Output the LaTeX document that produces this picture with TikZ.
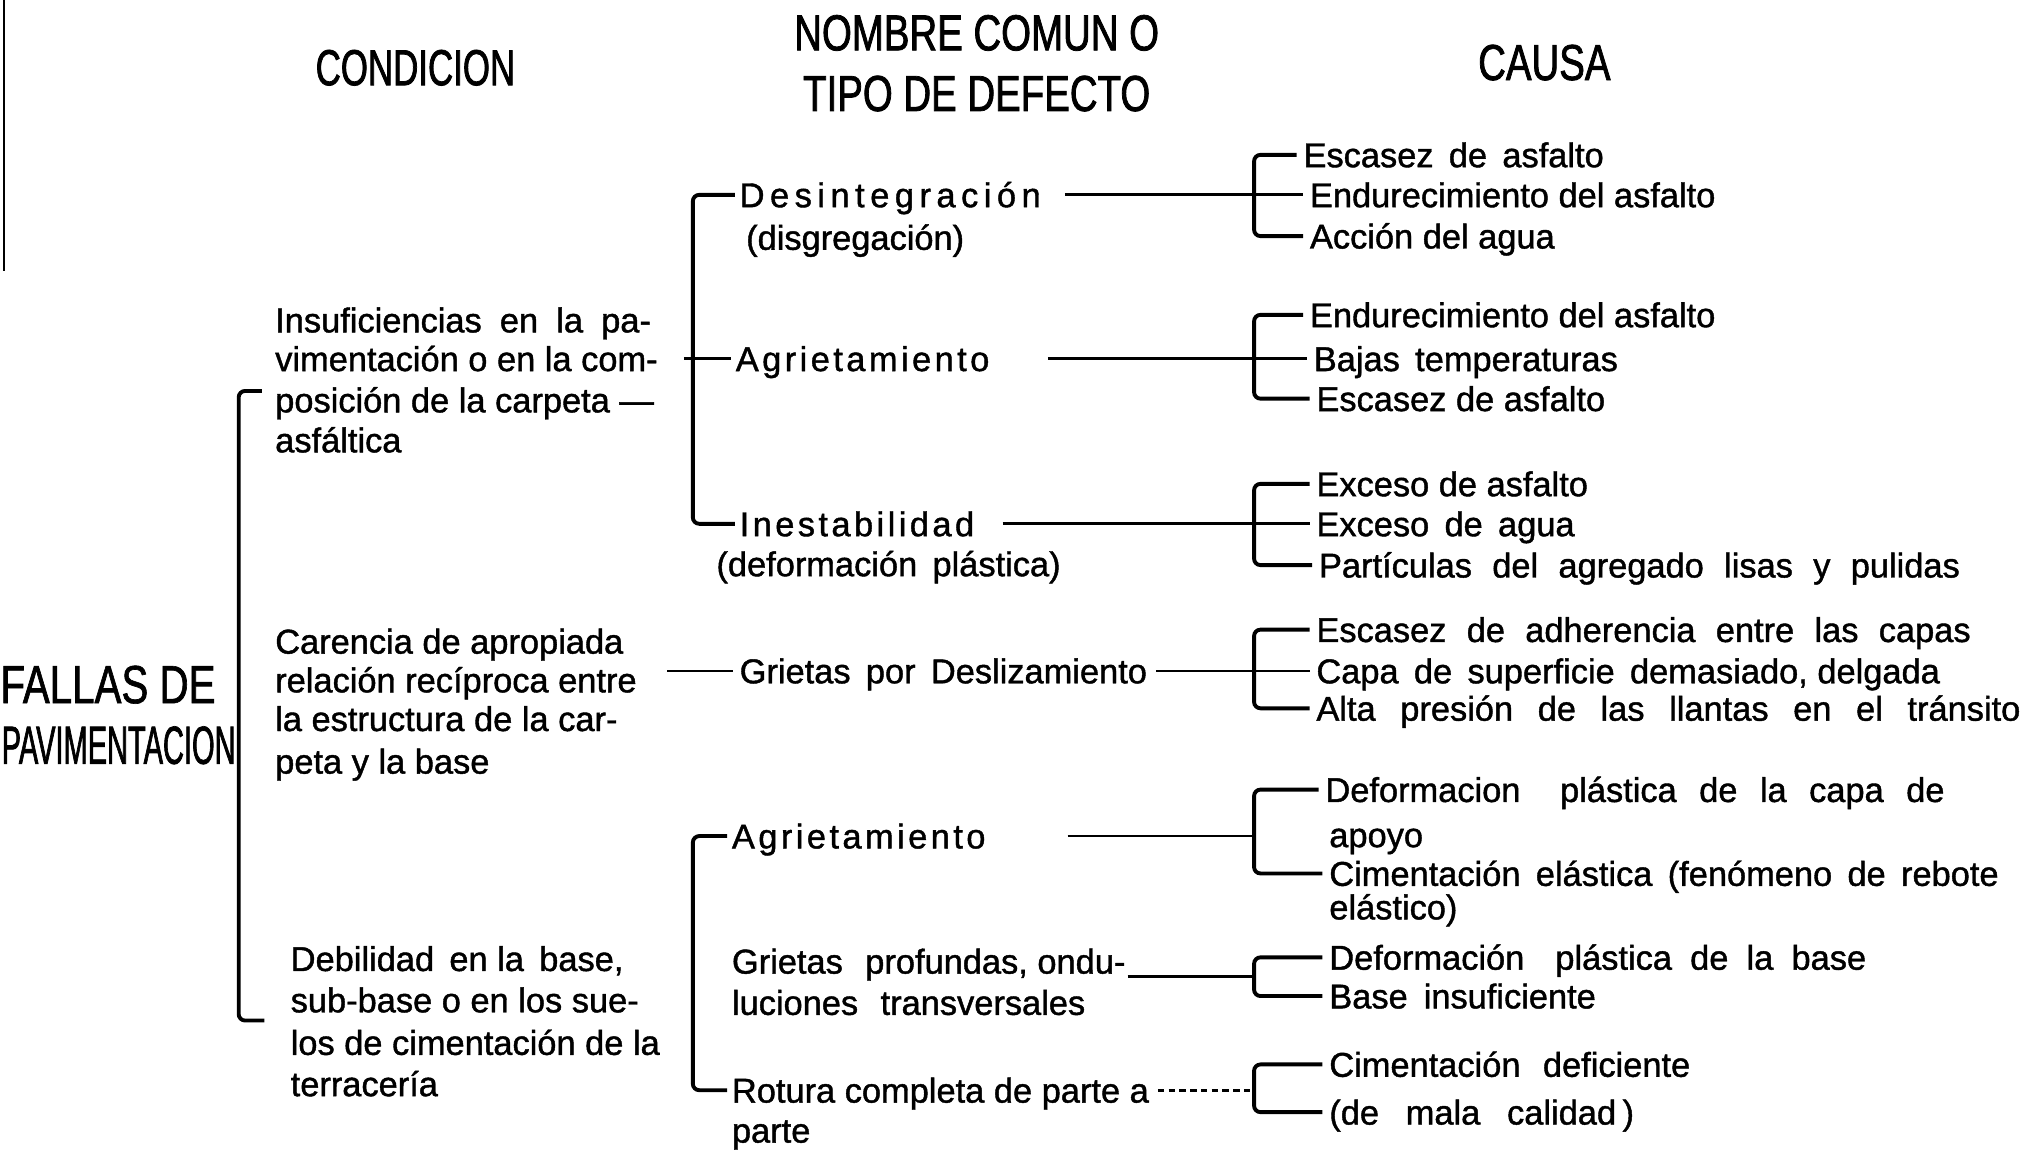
\documentclass[tikz,border=0pt]{standalone}
\usepackage{fontspec}
\usepackage{graphicx}
\setmainfont{Liberation Sans}
\newfontfamily\bodyf[FakeBold=1.2]{Liberation Sans}
\newfontfamily\headf[FakeStretch=0.76,FakeBold=1.5]{Liberation Sans}
\newfontfamily\condf[FakeStretch=0.69,FakeBold=1.5]{Liberation Sans}
\newfontfamily\bigf[FakeStretch=0.75,FakeBold=1.2]{Liberation Sans}
\newfontfamily\pavf[FakeStretch=0.54,FakeBold=1.2]{Liberation Sans}
\newfontfamily\spacedf[LetterSpace=10,FakeBold=1.2]{Liberation Sans}
\newfontfamily\widef[LetterSpace=16,FakeBold=1.2]{Liberation Sans}
\newcommand{\wsp}[1]{\hspace{#1pt}}
\usetikzlibrary{calc}
\begin{document}
\begin{tikzpicture}[x=0.6pt,y=-0.6pt,
  txt/.style={font=\bodyf\fontsize{16}{18}\selectfont, anchor=west, inner sep=0pt, text height=11.5pt, text depth=0pt},
  sptxt/.style={txt, font=\spacedf\fontsize{16}{18}\selectfont},
  widetxt/.style={txt, font=\widef\fontsize{16}{18}\selectfont},
  hdr/.style={font=\headf\fontsize{23.5}{26}\selectfont, inner sep=0pt, text height=16.8pt, text depth=0pt},
  big/.style={font=\bigf\fontsize{25}{28}\selectfont, anchor=west, inner sep=0pt, text height=18pt, text depth=0pt},
  brk/.style={line width=1.8pt, rounded corners=3pt},
  con/.style={line width=1.3pt}
]
\useasboundingbox (0,0) rectangle (1568,892);
\fill[white] (0,0) rectangle (1568,892);
\clip (0,0) rectangle (1568,892);

% page edge
\draw[line width=1.2pt] (3,0) -- (3,210);

% headers
\node[hdr, font=\condf\fontsize{23.5}{26}\selectfont] (h1) at (322,52) {CONDICION};
\node[hdr] (h2) at (757,25) {NOMBRE COMUN O};
\node[hdr] (h3) at (757,72) {TIPO DE DEFECTO};
\node[hdr] (h4) at (1197,48) {CAUSA};

% root
\node[big] (f1) at (0,530) {FALLAS DE};
\node[big, font=\pavf\fontsize{25}{28}\selectfont] (f2) at (1,577) {PAVIMENTACION};

% conditions
\node[txt] (i1) at (213,248) {Insuficiencias\wsp{4} en\wsp{4} la\wsp{4} pa-};
\node[txt] (i2) at (213,278) {vimentación o en la com-};
\node[txt] (i3) at (213,310) {posición de la carpeta —};
\node[txt] (i4) at (213,341) {asfáltica};

\node[txt] (k1) at (213,497) {Carencia de apropiada};
\node[txt] (k2) at (213,527) {relación recíproca entre};
\node[txt] (k3) at (213,557) {la estructura de la car-};
\node[txt] (k4) at (213,590) {peta y la base};

\node[txt] (w1) at (225,743) {Debilidad\, en la\, base,};
\node[txt] (w2) at (225,775) {sub-base o en los sue-};
\node[txt] (w3) at (225,808) {los de cimentación de la};
\node[txt] (w4) at (225,840) {terracería};

% defects
\node[widetxt] (d1) at (573,151) {Desintegración};
\node[txt] (d1b) at (578,184) {(disgregación)};
\node[sptxt] (d2) at (570,278) {Agrietamiento};
\node[sptxt] (d3) at (573,406) {Inestabilidad};
\node[txt] (d3b) at (555,437) {(deformación\, plástica)};
\node[txt] (d4) at (573,520) {Grietas\, por\, Deslizamiento};
\node[sptxt] (d5) at (567,648) {Agrietamiento};
\node[txt] (d6a) at (567,745) {Grietas\wsp{6} profundas, ondu-};
\node[txt] (d6b) at (567,777) {luciones\wsp{6} transversales};
\node[txt] (d7a) at (567,845) {Rotura completa de parte a};
\node[txt] (d7b) at (567,876) {parte};

% causes
\node[txt] (c11) at (1010,120) {Escasez\, de\, asfalto};
\node[txt] (c12) at (1015,151) {Endurecimiento del asfalto};
\node[txt] (c13) at (1015,183) {Acción del agua};
\node[txt] (c21) at (1015,244) {Endurecimiento del asfalto};
\node[txt] (c22) at (1018,278) {Bajas\, temperaturas};
\node[txt] (c23) at (1020,309) {Escasez de asfalto};
\node[txt] (c31) at (1020,375) {Exceso de asfalto};
\node[txt] (c32) at (1020,406) {Exceso\, de\, agua};
\node[txt] (c33) at (1022,438) {Partículas\wsp{5} del\wsp{5} agregado\wsp{5} lisas\wsp{5} y\wsp{5} pulidas};
\node[txt] (c41) at (1020,488) {Escasez\wsp{5} de\wsp{5} adherencia\wsp{5} entre\wsp{5} las\wsp{5} capas};
\node[txt] (c42) at (1020,520) {Capa\, de\, superficie\, demasiado, delgada};
\node[txt] (c43) at (1020,549) {Alta\wsp{7} presión\wsp{7} de\wsp{7} las\wsp{7} llantas\wsp{7} en\wsp{7} el\wsp{7} tránsito};
\node[txt] (c51) at (1027,612) {Deformacion\wsp{14} plástica\wsp{6} de\wsp{6} la\wsp{6} capa\wsp{6} de};
\node[txt] (c52) at (1030,647) {apoyo};
\node[txt] (c53) at (1030,677) {Cimentación\, elástica\, (fenómeno\, de\, rebote};
\node[txt] (c54) at (1030,703) {elástico)};
\node[txt] (c61) at (1030,742) {Deformación\wsp{10} plástica\wsp{4} de\wsp{4} la\wsp{4} base};
\node[txt] (c62) at (1030,772) {Base\wsp{3} insuficiente};
\node[txt] (c71) at (1030,825) {Cimentación\wsp{6} deficiente};
\node[txt] (c72) at (1030,862) {(de\wsp{8} mala\wsp{8} calidad\wsp{3})};

% bracket x positions
\coordinate (bbx) at (185,0);
\coordinate (mx) at (537,0);
\coordinate (bx) at (972,0);
\coordinate (bt) at (203,303);
\coordinate (bb) at (205,791);
\coordinate (g0) at (517,520);
\coordinate (d6c) at (874,757);

% big bracket
\draw[brk] (bt) -- (bt -| bbx) -- (bb -| bbx) -- (bb);

% middle brackets
\draw[brk] ([xshift=-2pt]d1.west) -- (d1.west -| mx) -- (d3.west -| mx) -- ([xshift=-2pt]d3.west);
\draw[con] ([xshift=12pt]i2.east) -- ([xshift=-2pt]d2.west);
\draw[con] (g0) -- ([xshift=-3pt]d4.west);
\draw[brk] ([xshift=-2pt]d5.west) -- (d5.west -| mx) -- (d7a.west -| mx) -- ([xshift=-2pt]d7a.west);

% cause brackets
\draw[brk] ([xshift=-3pt]c11.west) -- (c11.west -| bx) -- (c13.west -| bx) -- ([xshift=-3pt]c13.west);
\draw[con] ([xshift=11pt]d1.east) -- ([xshift=-3pt]c12.west);

\draw[brk] ([xshift=-3pt]c21.west) -- (c21.west -| bx) -- (c23.west -| bx) -- ([xshift=-3pt]c23.west);
\draw[con] ([xshift=27pt]d2.east) -- ([xshift=-3pt]c22.west);

\draw[brk] ([xshift=-3pt]c31.west) -- (c31.west -| bx) -- (c33.west -| bx) -- ([xshift=-3pt]c33.west);
\draw[con] ([xshift=13pt]d3.east) -- ([xshift=-3pt]c32.west);

\draw[brk] ([xshift=-3pt]c41.west) -- (c41.west -| bx) -- (c43.west -| bx) -- ([xshift=-3pt]c43.west);
\draw[con] ([xshift=4pt]d4.east) -- ([xshift=-3pt]c42.west);

\draw[brk] ([xshift=-3pt]c51.west) -- (c51.west -| bx) -- (c53.west -| bx) -- ([xshift=-3pt]c53.west);
\draw[con] ([xshift=38pt]d5.east) -- (d5.east -| bx);

\draw[brk] ([xshift=-3pt]c61.west) -- (c61.west -| bx) -- (c62.west -| bx) -- ([xshift=-3pt]c62.west);
\draw[con] (d6c) -- (d6c -| bx);

\draw[brk] ([xshift=-3pt]c71.west) -- (c71.west -| bx) -- (c72.west -| bx) -- ([xshift=-3pt]c72.west);
\draw[con, densely dashed] ([xshift=4pt]d7a.east) -- (d7a.east -| bx);
\end{tikzpicture}
\end{document}
